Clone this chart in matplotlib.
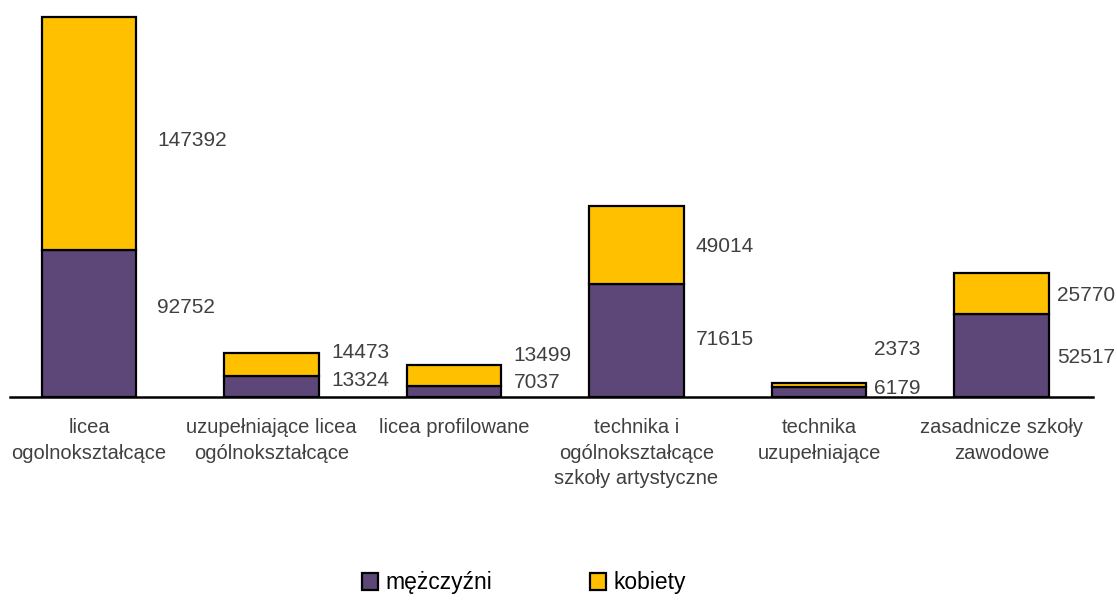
import numpy as np
import matplotlib
matplotlib.use('Agg')
import matplotlib.pyplot as plt

# Dane: uczniowie wg typu szkoły i płci
kategorie = ['licea\nogolnokształcące',
             'uzupełniające licea\nogólnokształcące',
             'licea profilowane',
             'technika i\nogólnokształcące\nszkoły artystyczne',
             'technika\nuzupełniające',
             'zasadnicze szkoły\nzawodowe']
mezczyzni = [92752, 13324, 7037, 71615, 6179, 52517]
kobiety = [147392, 14473, 13499, 49014, 2373, 25770]

kolor_m = '#5d4779'
kolor_k = '#ffc000'
kolor_txt = '#404040'

plt.rcParams['font.family'] = ['Liberation Sans', 'DejaVu Sans']

fig = plt.figure(figsize=(11.17, 6.12), dpi=100)
ax = fig.add_axes([0, 215 / 612, 1, 397 / 612])

x = np.arange(len(kategorie))
szer = 0.52
m = np.array(mezczyzni)
k = np.array(kobiety)

ax.bar(x, m, width=szer, color=kolor_m, edgecolor='black', linewidth=1.6, label='mężczyźni')
ax.bar(x, k, width=szer, bottom=m, color=kolor_k, edgecolor='black', linewidth=1.6, label='kobiety')

ax.set_xlim(-0.4877, 5.633)
ax.set_ylim(0, (m + k).max() * 397 / 380)
ax.axis('off')
ax.axhline(0, xmin=10 / 1117, xmax=1093 / 1117, color='black', lw=1.8, clip_on=False, zorder=5)

# etykiety wartości (przesunięcia w pikselach, jak w oryginale)
dx = [21, 12, 12, 12, 8, 8]
dy_k = [-6.5, 11.5, 20, -1.5, 36, -2]
dy_m = [16, 5.5, 8.5, 1, 3.5, -2]
for i in range(len(x)):
    ax.annotate(str(k[i]), (x[i] + szer / 2, m[i] + k[i] / 2), xytext=(dx[i], dy_k[i]),
                textcoords='offset pixels', ha='left', va='center', fontsize=15, color=kolor_txt)
    ax.annotate(str(m[i]), (x[i] + szer / 2, m[i] / 2), xytext=(dx[i], dy_m[i]),
                textcoords='offset pixels', ha='left', va='center', fontsize=15, color=kolor_txt)
    ax.annotate(kategorie[i], (x[i], 0), xytext=(0, -21), textcoords='offset pixels',
                ha='center', va='top', fontsize=14.5, color=kolor_txt, linespacing=1.45,
                annotation_clip=False)

fig.legend(loc='center', bbox_to_anchor=(524 / 1117, 1 - 583 / 612), ncol=2, frameon=False,
           fontsize=16.5, handlelength=0.7, handleheight=0.7, handletextpad=0.3, columnspacing=4.3)

plt.savefig('out.png', dpi=100)
